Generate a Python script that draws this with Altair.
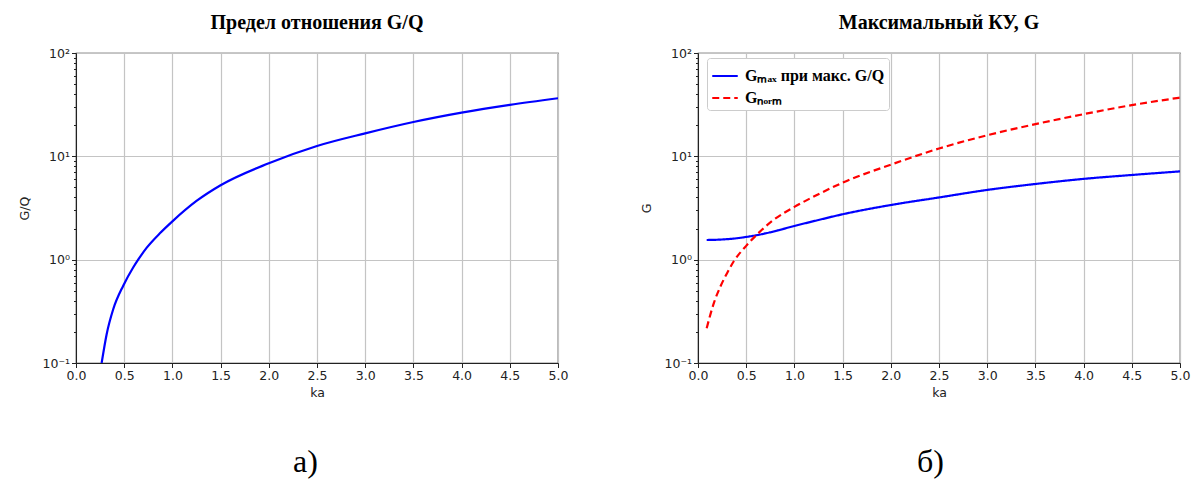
import altair as alt
import pandas as pd

# ---- data ----
ka_a = [0.266, 0.318, 0.386, 0.49, 0.593, 0.645, 0.732, 0.87, 1.0, 1.25, 1.5, 2.0, 2.5, 3.0, 3.5, 4.0, 4.5, 5.0]
gq_a = [0.1, 0.19, 0.331, 0.56, 0.84, 1.0, 1.3, 1.8, 2.35, 3.7, 5.25, 8.57, 12.6, 16.7, 21.5, 26.5, 31.5, 36.5]

ka_b = [0.09, 0.166, 0.235, 0.304, 0.373, 0.5, 0.614, 0.77, 1.0, 1.25, 1.5, 2.0, 2.5, 3.0, 3.5, 4.0, 4.5, 5.0]
gmax_b = [1.55, 1.555, 1.565, 1.58, 1.60, 1.66, 1.73, 1.86, 2.12, 2.42, 2.75, 3.38, 4.0, 4.73, 5.4, 6.05, 6.6, 7.15]
gnorm_b = [0.217, 0.384, 0.556, 0.748, 0.97, 1.36, 1.76, 2.37, 3.24, 4.3, 5.56, 8.3, 11.9, 16.0, 20.5, 25.6, 31.3, 37.0]

series_names = ["Gₘₐₓ при макс. G/Q", "Gₙₒᵣₘ"]
series_colors = ["#0000ff", "#ff0000"]

title_a = "Предел отношения G/Q"
title_b = "Максимальный КУ, G"
caption_a = "а)"
caption_b = "б)"
x_title = "ka"
y_title_a = "G/Q"
y_title_b = "G"

x_ticks = [0.0, 0.5, 1.0, 1.5, 2.0, 2.5, 3.0, 3.5, 4.0, 4.5, 5.0]
y_major = [0.1, 1, 10, 100]
y_minor = [0.2, 0.3, 0.4, 0.5, 0.6, 0.7, 0.8, 0.9,
           2, 3, 4, 5, 6, 7, 8, 9,
           20, 30, 40, 50, 60, 70, 80, 90]

# ---- tables ----
df_a = pd.DataFrame({"ka": ka_a, "val": gq_a})
df_b = pd.concat([
    pd.DataFrame({"ka": ka_b, "val": gmax_b, "series": series_names[0]}),
    pd.DataFrame({"ka": ka_b, "val": gnorm_b, "series": series_names[1]}),
])

W, H = 482, 310
SPACING = 71
TICK_FONT = "DejaVu Sans"
SERIF = "Liberation Serif"
major_test = " || ".join(f"datum.value == {v}" for v in y_major)
label_expr = ("datum.value == 100 ? '10²' : datum.value == 10 ? '10¹' : "
              "datum.value == 1 ? '10⁰' : datum.value == 0.1 ? '10⁻¹' : ''")


def x_enc():
    return alt.X("ka:Q", scale=alt.Scale(domain=[0, 5], nice=False, zero=False),
                 axis=alt.Axis(values=x_ticks, format=".1f", title=x_title,
                               labelFont=TICK_FONT, labelFontSize=12.5, labelColor="#222",
                               titleFont=TICK_FONT, titleFontSize=12.5, titleFontWeight="normal",
                               titleColor="#222", titlePadding=4,
                               tickSize=4.5, tickColor="#222", domainColor="#222",
                               gridColor="#c4c4c4", gridWidth=1.2, labelPadding=2,
                               labelFlush=False))


def y_enc(title):
    return alt.Y("val:Q", scale=alt.Scale(type="log", domain=[0.1, 100], nice=False),
                 axis=alt.Axis(values=sorted(y_major + y_minor), labelExpr=label_expr,
                               title=title, labelFont=TICK_FONT, labelFontSize=12.5,
                               labelColor="#222", titleFont=TICK_FONT, titleFontSize=12.5,
                               titleFontWeight="normal", titleColor="#222", titlePadding=10,
                               tickColor="#222", domainColor="#222", labelPadding=2,
                               tickSize={"condition": {"test": major_test, "value": 4.5}, "value": 2.5},
                               gridOpacity={"condition": {"test": major_test, "value": 1}, "value": 0},
                               gridColor="#c4c4c4", gridWidth=1.2, labelFlush=False))


def top_title(text):
    return alt.Title(text, font=SERIF, fontSize=20, fontWeight="bold", color="black",
                     offset=14, anchor="middle")


panel_a = alt.Chart(df_a).mark_line(color=series_colors[0], strokeWidth=2.2,
                                    interpolate="monotone", clip=True).encode(
    x=x_enc(), y=y_enc(y_title_a)
).properties(width=W, height=H, title=top_title(title_a))

# legend sits inside the right panel; its origin is the left panel's plot origin
legend_x = W + SPACING + 70 + 8

panel_b = alt.Chart(df_b).mark_line(strokeWidth=2.2, interpolate="monotone", clip=True).encode(
    x=x_enc(), y=y_enc(y_title_b),
    color=alt.Color("series:N", scale=alt.Scale(domain=series_names, range=series_colors),
                    legend=alt.Legend(title=None, orient="none", legendX=legend_x, legendY=5,
                                      labelFont=SERIF, labelFontSize=16, labelFontWeight="bold",
                                      labelColor="black", symbolType="stroke",
                                      symbolStrokeWidth=2.2, symbolSize=650,
                                      strokeColor="#cccccc", fillColor="white",
                                      cornerRadius=3, padding=4, rowPadding=-3,
                                      labelOffset=6)),
    strokeDash=alt.StrokeDash("series:N", scale=alt.Scale(domain=series_names,
                                                          range=[[1, 0], [7, 4]]),
                              legend=None),
).properties(width=W, height=H, title=top_title(title_b))


def caption(text, dx):
    return alt.Title(text, orient="bottom", font=SERIF, fontSize=32, fontWeight="normal",
                     color="black", offset=48, anchor="middle", dx=dx)


left = alt.vconcat(panel_a, title=caption(caption_a, 12))
right = alt.vconcat(panel_b, title=caption(caption_b, 15))

chart = alt.hconcat(left, right, spacing=SPACING).properties(
    padding={"left": 10, "top": 4, "right": 0, "bottom": 0}
).configure_view(stroke="#222", strokeWidth=1.2).configure_axis(grid=True)

chart.save("out.html", embed_options={"renderer": "svg", "actions": False})
